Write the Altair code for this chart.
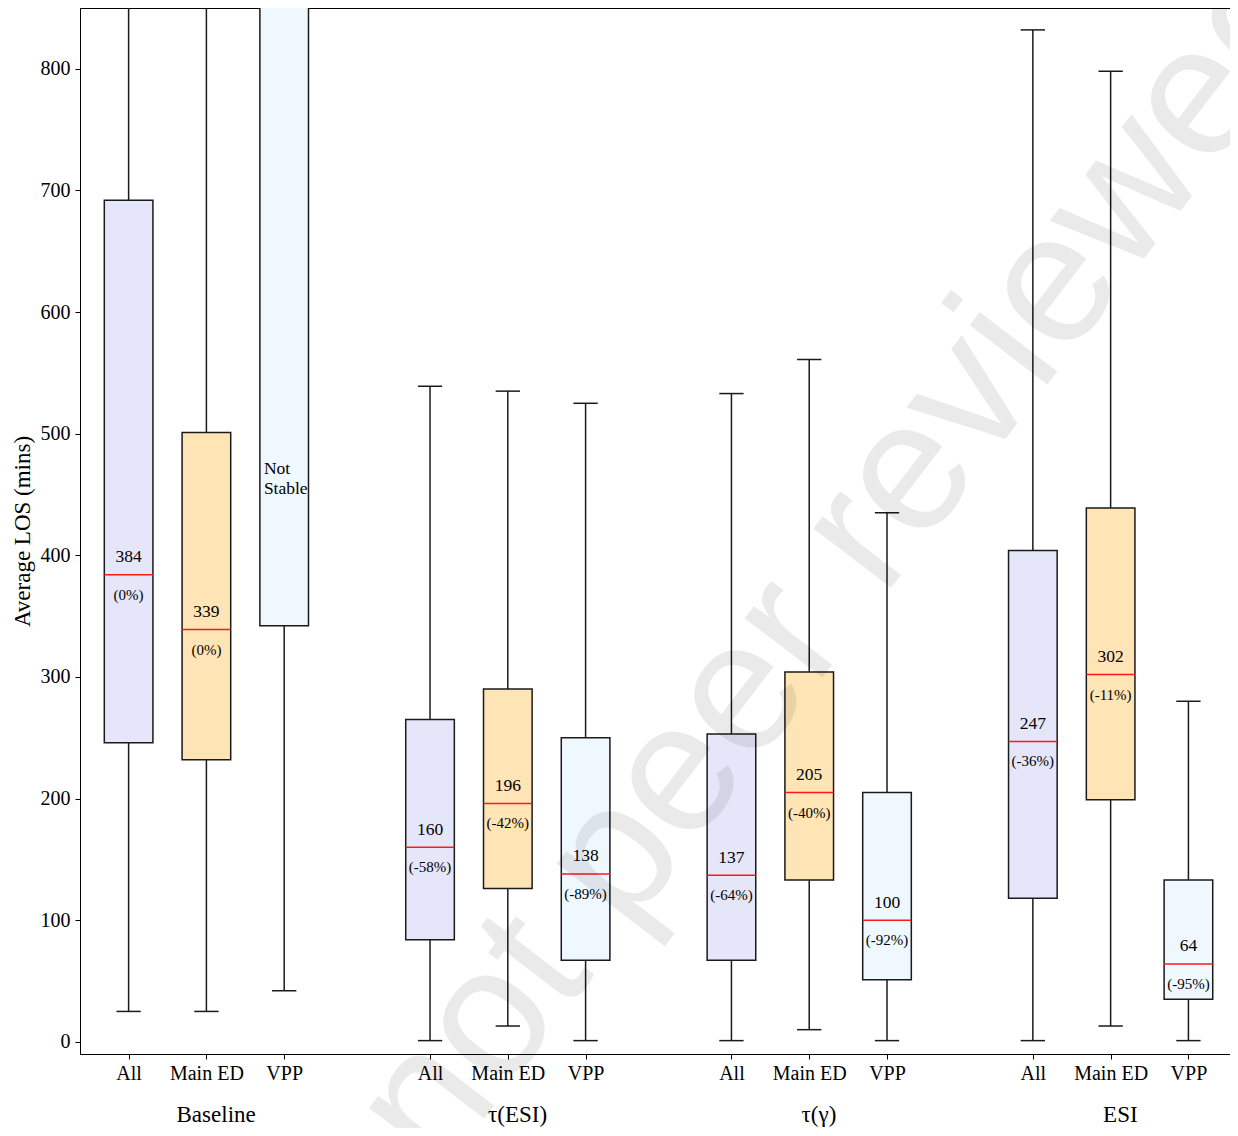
import altair as alt
import pandas as pd

# ---------------- data ----------------
groups = ["Baseline", "τ(ESI)", "τ(γ)", "ESI"]
members = ["All", "Main ED", "VPP"]
member_colors = ["#E6E6FA", "#FFE4B5", "#F0F8FF"]

# rows: groups, columns: members (All, Main ED, VPP)
whisker_low = [[25, 25, 42], [1, 13, 1], [1, 10, 1], [1, 13, 1]]
q1_values = [[246, 232, 342], [84, 126, 67], [67, 133, 51], [118, 199, 35]]
median_values = [[384, 339, None], [160, 196, 138], [137, 205, 100], [247, 302, 64]]
q3_values = [[692, 501, 950], [265, 290, 250], [253, 304, 205], [404, 439, 133]]
whisker_high = [[950, 950, 1000], [539, 535, 525], [533, 561, 435], [832, 798, 280]]
pct_labels = [["(0%)", "(0%)", ""], ["(-58%)", "(-42%)", "(-89%)"],
              ["(-64%)", "(-40%)", "(-92%)"], ["(-36%)", "(-11%)", "(-95%)"]]
not_stable_text = "Not\nStable"
not_stable_value = 471
y_ticks = [0, 100, 200, 300, 400, 500, 600, 700, 800]
watermark_text = "not peer reviewed"

# layout of the box positions (matplotlib-like positions)
first_pos = 1.0
member_step = 0.8
group_step = 3.1

rows = []
for g, grp in enumerate(groups):
    for m, mem in enumerate(members):
        med = median_values[g][m]
        rows.append({
            "group": grp,
            "member": mem,
            "pos": round(first_pos + g * group_step + m * member_step, 2),
            "lo": whisker_low[g][m],
            "q1": q1_values[g][m],
            "med": med,
            "q3": q3_values[g][m],
            "hi": whisker_high[g][m],
            "val_label": "" if med is None else str(med),
            "pct_label": pct_labels[g][m],
        })
df = pd.DataFrame(rows)
positions = df["pos"].tolist()

grp_df = pd.DataFrame({
    "group": groups,
    "gx": [round(first_pos + g * group_step + member_step + 0.1, 2) for g in range(len(groups))],
})
ns_df = pd.DataFrame({"pos": [positions[2]], "v": [not_stable_value], "t": [not_stable_text]})
wm_df = pd.DataFrame({"t": [watermark_text]})

# ---------------- scales / axes ----------------
FONT = "Liberation Serif"
INK = "#1a1a1a"

PLOT_W = 1150
xscale = alt.Scale(domain=[0.5, 0.5 + PLOT_W / 97.23], nice=False, zero=False)
yscale = alt.Scale(domain=[-10, 850], nice=False, zero=False)

member_js = "[" + ",".join(f"'{m}'" for m in members) + "]"
label_expr = (f"{member_js}[round((round((datum.value - {first_pos}) * 10) % "
              f"{round(group_step * 10)}) / {round(member_step * 10)})]")

xaxis = alt.Axis(values=positions, labelExpr=label_expr, title=None, grid=False,
                 labelFlush=False, labelOverlap=False, tickSize=5, labelPadding=4,
                 labelFont=FONT, labelFontSize=20, labelColor="black")
yaxis = alt.Axis(values=y_ticks, title="Average LOS (mins)", grid=False, tickSize=5,
                 labelPadding=5, titlePadding=6, titleFontSize=23,
                 titleFontWeight="normal", titleFont=FONT, titleColor="black",
                 labelFont=FONT, labelFontSize=20, labelColor="black")


def X(field):
    return alt.X(field, type="quantitative", scale=xscale, axis=xaxis)


def Y(field):
    return alt.Y(field, type="quantitative", scale=yscale, axis=yaxis)


base = alt.Chart(df).transform_calculate(
    bl="datum.pos - 0.25", br="datum.pos + 0.25",
    cl="datum.pos - 0.125", cr="datum.pos + 0.125",
)

whisker = base.mark_rule(color=INK, strokeWidth=1.5, clip=True).encode(
    x=X("pos"), y=Y("lo"), y2="hi")
cap_lo = base.mark_rule(color=INK, strokeWidth=1.5, clip=True).encode(
    x=X("cl"), x2="cr", y=Y("lo"))
cap_hi = base.mark_rule(color=INK, strokeWidth=1.5, clip=True).encode(
    x=X("cl"), x2="cr", y=Y("hi"))
box = base.mark_rect(stroke=INK, strokeWidth=1.5, opacity=1, clip=True).encode(
    x=X("bl"), x2="br", y=Y("q1"), y2="q3",
    color=alt.Color("member:N", scale=alt.Scale(domain=members, range=member_colors),
                    legend=None))
median = base.transform_filter("isValid(datum.med)").mark_rule(
    color="#ff1a1a", strokeWidth=1.5).encode(x=X("bl"), x2="br", y=Y("med"))
val_text = base.transform_filter("isValid(datum.med)").mark_text(
    font=FONT, fontSize=17.5, dy=-17.5, baseline="middle", color="black").encode(
    x=X("pos"), y=Y("med"), text="val_label:N")
pct_text = base.transform_filter("isValid(datum.med)").mark_text(
    font=FONT, fontSize=15, dy=20, baseline="middle", color="black").encode(
    x=X("pos"), y=Y("med"), text="pct_label:N")

not_stable = alt.Chart(ns_df).transform_calculate(left="datum.pos - 0.25").mark_text(
    font=FONT, fontSize=17.5, align="left", dx=4, baseline="middle",
    lineBreak="\n", lineHeight=20, color="black").encode(
    x=X("left"), y=Y("v"), text="t:N")

group_labels = alt.Chart(grp_df).mark_text(
    font=FONT, fontSize=23, baseline="alphabetic", color="black").encode(
    x=X("gx"), y=alt.value(1114), text="group:N")

watermark = alt.Chart(wm_df).mark_text(
    font="Liberation Sans", fontSize=185, angle=307.5, align="center",
    baseline="middle", color="black", opacity=0.08).encode(
    x=alt.value(762), y=alt.value(552), text="t:N")

chart = alt.layer(
    whisker, cap_lo, cap_hi, box, median, val_text, pct_text, not_stable,
    group_labels, watermark
).properties(
    width=PLOT_W, height=1046,
    background="white",
    autosize=alt.AutoSizeParams(type="none"),
    padding={"left": 72, "top": 0, "right": 0, "bottom": 74},
).configure_view(
    stroke="black", strokeWidth=1
).configure_axis(
    labelFont=FONT, labelFontSize=20, labelColor="black",
    tickColor="black", domainColor="black", domainWidth=1, tickWidth=1,
)

chart.save("out.html", embed_options={"renderer": "svg", "actions": False})
